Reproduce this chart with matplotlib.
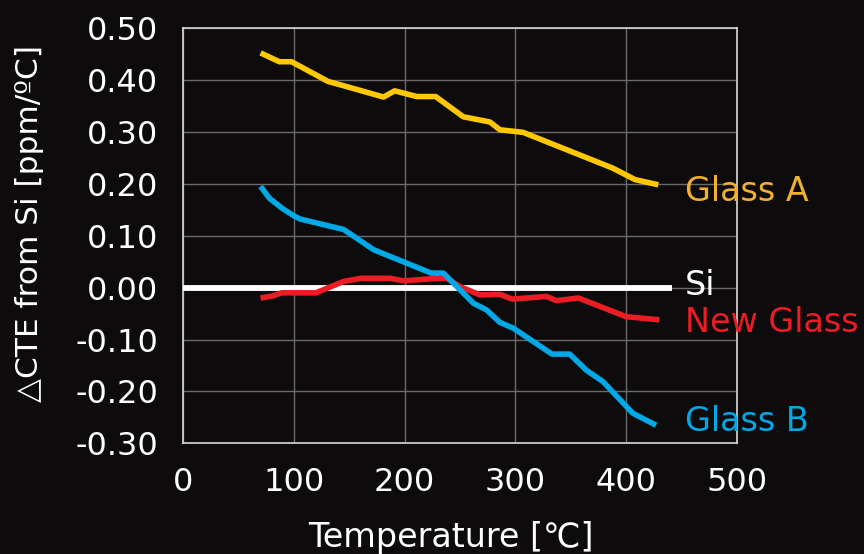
import matplotlib
matplotlib.use('Agg')
import matplotlib.pyplot as plt

plt.rcParams['font.family'] = ['DejaVu Sans', 'Noto Sans CJK JP']

# 温度 [℃] と ΔCTE [ppm/ºC]
temp_a = [70, 87, 98, 131, 148, 181, 191, 211, 228, 253, 277, 286, 307, 388, 408, 429]
cte_a = [0.452, 0.435, 0.435, 0.397, 0.387, 0.367, 0.379, 0.368, 0.368, 0.329,
         0.319, 0.304, 0.299, 0.230, 0.208, 0.198]

temp_b = [70, 78, 90, 101, 106, 145, 172, 202, 224, 235, 250, 262, 274, 286, 298,
          333, 349, 364, 379, 406, 427]
cte_b = [0.195, 0.172, 0.152, 0.137, 0.132, 0.112, 0.073, 0.047, 0.028, 0.028,
         -0.004, -0.030, -0.043, -0.067, -0.078, -0.128, -0.128, -0.159, -0.181,
         -0.242, -0.265]

temp_new = [70, 81, 89, 120, 145, 161, 187, 199, 229, 238, 250, 268, 286, 297, 328,
            337, 357, 400, 430]
cte_new = [-0.020, -0.016, -0.010, -0.010, 0.012, 0.018, 0.018, 0.013, 0.018, 0.018,
           0.002, -0.014, -0.013, -0.022, -0.017, -0.025, -0.020, -0.056, -0.062]

temp_si = [0, 441]
cte_si = [0.0, 0.0]

x_ticks = [0, 100, 200, 300, 400, 500]
y_ticks = [0.5, 0.4, 0.3, 0.2, 0.1, 0.0, -0.1, -0.2, -0.3]
y_ticklabels = ['0.50', '0.40', '0.30', '0.20', '0.10', '0.00', '-0.10', '-0.20', '-0.30']

bg = '#0e0b0c'
c_a, c_a_txt = '#ffc800', '#f0b030'
c_b = '#00a8e6'
c_new = '#ec1c24'

fig = plt.figure(figsize=(8.64, 5.54), dpi=100, facecolor=bg)
ax = fig.add_axes([183 / 864, 1 - 443.4 / 554, 554 / 864, 415.4 / 554])
ax.set_facecolor(bg)

ax.plot(temp_si, cte_si, color='white', lw=4.2, solid_capstyle='butt', zorder=3)
ax.plot(temp_new, cte_new, color=c_new, lw=4, solid_capstyle='butt', zorder=4)
ax.plot(temp_b, cte_b, color=c_b, lw=4, solid_capstyle='butt', zorder=5)
ax.plot(temp_a, cte_a, color=c_a, lw=4, solid_capstyle='butt', zorder=5)

ax.set_xlim(0, 500)
ax.set_ylim(-0.3, 0.5)
ax.set_xticks(x_ticks)
ax.set_yticks(y_ticks)
ax.set_yticklabels(y_ticklabels)
ax.grid(True, color='#6a6a6a', lw=1.0)
ax.set_axisbelow(True)
for s in ax.spines.values():
    s.set_color('#d8d8d8')
    s.set_linewidth(1.2)
ax.tick_params(length=0, labelsize=23, colors='white')
ax.tick_params(axis='y', pad=18)
ax.tick_params(axis='x', pad=17)

# 右側のラベル
lab = dict(fontsize=24, va='center', ha='left', clip_on=False)
ax.text(453, 0.186, 'Glass A', color=c_a_txt, **lab)
ax.text(453, 0.004, 'Si', color='white', **lab)
ax.text(453, -0.068, 'New Glass', color=c_new, **lab)
ax.text(453, -0.258, 'Glass B', color=c_b, **lab)

fig.text(30 / 864, 1 - 224 / 554, '△CTE from Si [ppm/ºC]', rotation=90,
         color='white', fontsize=22.5, ha='center', va='center')
fig.text(451 / 864, 1 - 547 / 554, 'Temperature [℃]', color='white',
         fontsize=24, ha='center', va='baseline')

fig.savefig('out.png', dpi=100, facecolor=bg)
